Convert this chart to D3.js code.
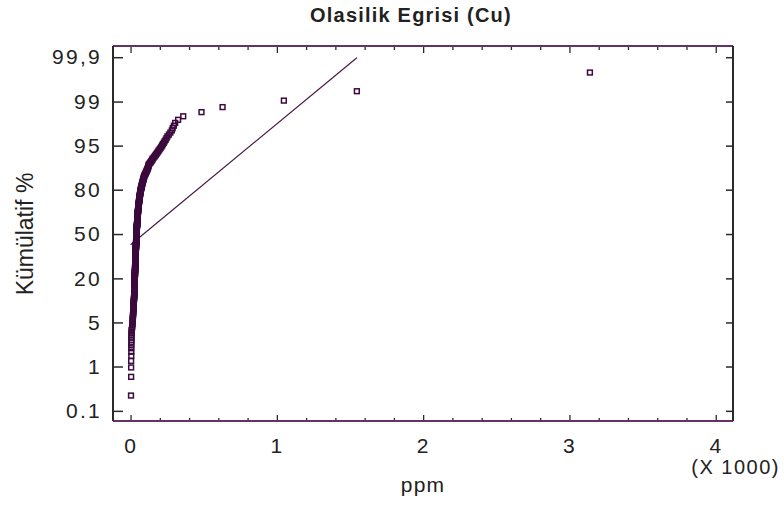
<!DOCTYPE html>
<html>
<head>
<meta charset="utf-8">
<script src="https://cdn.jsdelivr.net/npm/d3@7"></script>
<style>
    body { margin: 0; background: #fff; }
    svg { display: block; }
    text { font-family: "Liberation Sans", Arial, sans-serif; fill: #222; }
</style>
</head>
<body>
<div id="chart"></div>
<script>
// --- Data: Cu values (ppm) and how many samples share each value ---
const cuPpm = [3, 4, 5, 6, 7,
    10, 11, 12, 13, 14,
    15, 16, 17, 18, 19, 20, 21, 22, 23, 24,
    25, 26, 27, 28, 29, 30, 31, 32, 33,
    34, 35, 36, 37, 38, 39, 40, 41,
    42, 43, 44, 45, 46, 47, 48, 49, 50, 51, 52, 53, 54, 55, 56,
    57, 58, 59, 60, 61, 62, 63, 64, 65, 66, 67, 68, 69, 70,
    72, 74, 75, 77, 78, 80, 82, 84, 85, 87, 89, 91, 93,
    96, 98, 100, 102, 104, 106, 108, 110, 112, 114, 116, 118, 120, 121, 122, 124, 125,
    129, 134, 138, 142, 146, 150, 152,
    158, 163, 168, 173, 178, 183, 188, 193,
    199, 205, 210, 216, 221,
    227, 233, 240, 246, 252,
    262, 272, 282,
    288, 296, 305,
    325, 360, 485, 629, 1048, 1547, 3140];
const cuCount = [1, 3, 4, 4, 3,
    1, 1, 1, 1, 2,
    2, 2, 2, 3, 3, 3, 3, 3, 3, 3,
    6, 7, 8, 9, 10, 10, 10, 10, 10,
    10, 10, 10, 10, 10, 10, 10, 8,
    8, 8, 7, 7, 6, 6, 6, 5, 5, 5, 4, 4, 4, 3, 3,
    3, 3, 3, 3, 3, 2, 2, 2, 2, 2, 2, 2, 2, 2,
    2, 2, 2, 2, 2, 2, 2, 2, 1, 2, 2, 2, 2,
    1, 1, 1, 1, 1, 1, 1, 1, 1, 1, 1, 1, 1, 1, 1, 1, 1,
    1, 1, 1, 1, 1, 1, 1,
    1, 1, 1, 1, 1, 1, 1, 1,
    1, 1, 1, 1, 1,
    1, 1, 1, 1, 1,
    1, 1, 1,
    1, 1, 1,
    1, 1, 1, 1, 1, 1, 1];

// reference line (normal fit)
const fitMean = 88;
const fitSd = 442;
const fitLinePpm = [0, 1547];

// axis ticks
const xMajorTicks = [0, 1000, 2000, 3000, 4000];
const xMinorTicks = [200, 400, 600, 800, 1200, 1400, 1600, 1800, 2200, 2400, 2600, 2800, 3200, 3400, 3600, 3800];
const yTickLabels = ["0.1", "1", "5", "20", "50", "80", "95", "99", "99,9"];
const yTickZ = [-3.31, -2.48, -1.655, -0.83, 0, 0.83, 1.655, 2.48, 3.31];

// inverse normal CDF (Acklam)
function probit(p) {
    const a = [-39.69683028665376, 220.9460984245205, -275.9285104469687, 138.3577518672690, -30.66479806614716, 2.506628277459239];
    const b = [-54.47609879822406, 161.5858368580409, -155.6989798598866, 66.80131188771972, -13.28068155288572];
    const c = [-0.007784894002430293, -0.3223964580411365, -2.400758277161838, -2.549732539343734, 4.374664141464968, 2.938163982698783];
    const d = [0.007784695709041462, 0.3224671290700398, 2.445134137142996, 3.754408661907416];
    const pl = 0.02425;
    let q, r;
    if (p < pl) {
        q = Math.sqrt(-2 * Math.log(p));
        return (((((c[0] * q + c[1]) * q + c[2]) * q + c[3]) * q + c[4]) * q + c[5]) /
            ((((d[0] * q + d[1]) * q + d[2]) * q + d[3]) * q + 1);
    }
    if (p > 1 - pl) {
        q = Math.sqrt(-2 * Math.log(1 - p));
        return -(((((c[0] * q + c[1]) * q + c[2]) * q + c[3]) * q + c[4]) * q + c[5]) /
            ((((d[0] * q + d[1]) * q + d[2]) * q + d[3]) * q + 1);
    }
    q = p - 0.5;
    r = q * q;
    return (((((a[0] * r + a[1]) * r + a[2]) * r + a[3]) * r + a[4]) * r + a[5]) * q /
        (((((b[0] * r + b[1]) * r + b[2]) * r + b[3]) * r + b[4]) * r + 1);
}

// sorted sample with plotting positions (i - 0.5) / n
const sample = [];
cuPpm.forEach((v, k) => { for (let j = 0; j < cuCount[k]; j++) sample.push(v); });
const n = sample.length;
const points = sample.map((v, i) => ({ ppm: v, z: probit((i + 0.5) / n) }));

const width = 784, height = 506;
const plotLeft = 113, plotRight = 733, plotTop = 46, plotBottom = 421;

const svg = d3.select("#chart").append("svg")
    .attr("width", width)
    .attr("height", height);

const x = d3.scaleLinear().domain([-120, 4118]).range([plotLeft, plotRight]);
const y = d3.scaleLinear().domain([-3.5, 3.52]).range([plotBottom, plotTop]);

// --- axes (ticks drawn inward) ---
const tickColor = "#2a2a2a";
const labelFont = "Liberation Sans, Arial, sans-serif";

svg.append("g")
    .attr("transform", `translate(0,${plotBottom})`)
    .call(d3.axisBottom(x).tickValues(xMajorTicks).tickSize(-6).tickPadding(17).tickFormat(d => d / 1000))
    .call(g => g.select(".domain").remove())
    .call(g => g.selectAll("line").attr("stroke", tickColor).attr("stroke-width", 1.3))
    .call(g => g.selectAll("text").attr("font-size", 21).attr("letter-spacing", 2)
        .attr("font-family", labelFont).attr("fill", "#222"));

svg.append("g")
    .attr("transform", `translate(0,${plotBottom})`)
    .call(d3.axisBottom(x).tickValues(xMinorTicks).tickSize(-3).tickFormat(""))
    .call(g => g.select(".domain").remove())
    .call(g => g.selectAll("line").attr("stroke", tickColor).attr("stroke-width", 1.3));

svg.append("g")
    .attr("transform", `translate(0,${plotTop})`)
    .call(d3.axisTop(x).tickValues(xMajorTicks).tickSize(-7).tickFormat(""))
    .call(g => g.select(".domain").remove())
    .call(g => g.selectAll("line").attr("stroke", tickColor).attr("stroke-width", 1.3));

svg.append("g")
    .attr("transform", `translate(0,${plotTop})`)
    .call(d3.axisTop(x).tickValues(xMinorTicks).tickSize(-4).tickFormat(""))
    .call(g => g.select(".domain").remove())
    .call(g => g.selectAll("line").attr("stroke", tickColor).attr("stroke-width", 1.3));

svg.append("g")
    .attr("transform", `translate(${plotLeft},0)`)
    .call(d3.axisLeft(y).tickValues(yTickZ).tickSize(-10).tickPadding(11)
        .tickFormat((d, i) => yTickLabels[i]))
    .call(g => g.select(".domain").remove())
    .call(g => g.selectAll("line").attr("stroke", tickColor).attr("stroke-width", 1.5))
    .call(g => g.selectAll("text").attr("font-size", 21).attr("letter-spacing", 2.3)
        .attr("font-family", labelFont).attr("fill", "#222"));

svg.append("g")
    .attr("transform", `translate(${plotRight},0)`)
    .call(d3.axisRight(y).tickValues(yTickZ).tickSize(-7).tickFormat(""))
    .call(g => g.select(".domain").remove())
    .call(g => g.selectAll("line").attr("stroke", tickColor).attr("stroke-width", 1.5));

// --- frame ---
const frame = svg.append("g").attr("stroke-width", 2).attr("fill", "none");
frame.append("line").attr("x1", plotLeft).attr("x2", plotRight).attr("y1", plotTop).attr("y2", plotTop).attr("stroke", "#643264");
frame.append("line").attr("x1", plotLeft).attr("x2", plotRight).attr("y1", plotBottom).attr("y2", plotBottom).attr("stroke", "#643264");
frame.append("line").attr("x1", plotLeft).attr("x2", plotLeft).attr("y1", plotTop).attr("y2", plotBottom).attr("stroke", "#2a2a2a");
frame.append("line").attr("x1", plotRight).attr("x2", plotRight).attr("y1", plotTop).attr("y2", plotBottom).attr("stroke", "#2a2a2a");

// --- fit line ---
svg.append("line")
    .attr("x1", x(fitLinePpm[0]))
    .attr("y1", y((fitLinePpm[0] - fitMean) / fitSd))
    .attr("x2", x(fitLinePpm[1]))
    .attr("y2", y((fitLinePpm[1] - fitMean) / fitSd))
    .attr("stroke", "#4a1848")
    .attr("stroke-width", 1.2);

// --- points ---
const s = 4.8;
svg.append("g")
    .selectAll("rect")
    .data(points)
    .join("rect")
    .attr("x", d => x(d.ppm) - s / 2)
    .attr("y", d => y(d.z) - s / 2)
    .attr("width", s)
    .attr("height", s)
    .attr("fill", "none")
    .attr("stroke", "#3d0a3d")
    .attr("stroke-width", 1.5);

// --- titles ---
svg.append("text")
    .attr("x", 411)
    .attr("y", 22)
    .attr("text-anchor", "middle")
    .attr("font-size", 20)
    .attr("font-weight", "bold")
    .attr("letter-spacing", 1.2)
    .text("Olasilik Egrisi (Cu)");

svg.append("text")
    .attr("transform", "translate(33,234) rotate(-90)")
    .attr("text-anchor", "middle")
    .attr("font-size", 23)
    .text("Kümülatif %");

svg.append("text")
    .attr("x", 423)
    .attr("y", 492)
    .attr("text-anchor", "middle")
    .attr("font-size", 21)
    .attr("letter-spacing", 1.2)
    .text("ppm");

svg.append("text")
    .attr("x", 780)
    .attr("y", 474)
    .attr("text-anchor", "end")
    .attr("font-size", 20)
    .attr("letter-spacing", 1.5)
    .text("(X 1000)");
</script>
</body>
</html>
